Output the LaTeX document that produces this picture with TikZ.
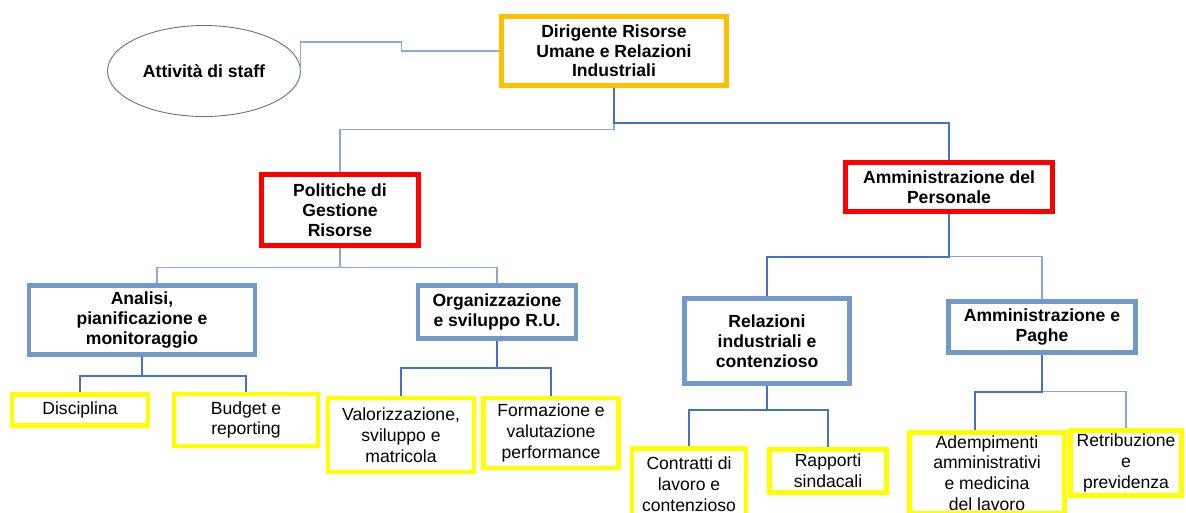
\documentclass[tikz,border=0pt]{standalone}
\usepackage{fontspec}
\setmainfont{Liberation Sans}
\usepackage{tikz}
\usetikzlibrary{shapes.geometric,positioning}
\definecolor{oroDir}{RGB}{255,192,0}
\definecolor{rossoArea}{RGB}{255,0,0}
\definecolor{bluUff}{RGB}{114,152,204}
\definecolor{gialloAtt}{RGB}{255,255,0}
\definecolor{bluLinea}{RGB}{68,114,196}
\definecolor{bluChiaro}{RGB}{140,168,214}
\definecolor{grigioEll}{RGB}{110,110,110}

\begin{document}
\begin{tikzpicture}[x=0.02cm,y=-0.02cm,
  box/.style={draw,line width=2.8pt,fill=white,align=center,inner sep=0pt},
  dirBox/.style={box,draw=oroDir,font=\fontsize{10}{11}\selectfont\bfseries},
  areaBox/.style={box,draw=rossoArea,font=\fontsize{10}{11.5}\selectfont\bfseries},
  uffBox/.style={box,draw=bluUff,font=\fontsize{10}{11.5}\selectfont\bfseries},
  attBox/.style={box,draw=gialloAtt,font=\fontsize{10}{11.8}\selectfont},
  staffEll/.style={ellipse,draw=grigioEll,line width=0.5pt,inner sep=0pt,
                   font=\fontsize{10}{11.5}\selectfont\bfseries},
  lnMain/.style={draw=bluLinea,line width=0.9pt},
  lnLight/.style={draw=bluChiaro,line width=0.6pt}]

  \useasboundingbox (0,0) rectangle (1186,513);

  % Vertice
  \node[dirBox,minimum width=4.5cm,minimum height=1.38cm] (dir) at (614,51)
    {Dirigente Risorse\\Umane e Relazioni\\Industriali};
  \node[staffEll,minimum width=3.86cm,minimum height=1.82cm] (staff) at (204,71)
    {Attività di staff};

  % Aree
  \node[areaBox,minimum width=3.14cm,minimum height=1.42cm] (pol) at (340,210)
    {Politiche di\\Gestione\\Risorse};
  \node[areaBox,minimum width=4.14cm,minimum height=0.98cm] (amm) at (949,187)
    {Amministrazione del\\Personale};

  % Uffici
  \node[uffBox,minimum width=4.52cm,minimum height=1.38cm] (ana) at (142,320)
    {Analisi,\\pianificazione e\\monitoraggio};
  \node[uffBox,minimum width=3.16cm,minimum height=1.06cm] (org) at (497,312)
    {Organizzazione\\e sviluppo R.U.};
  \node[uffBox,minimum width=3.3cm,minimum height=1.7cm] (rel) at (767,341)
    {Relazioni\\industriali e\\contenzioso};
  \node[uffBox,minimum width=3.74cm,minimum height=1.02cm] (pag) at (1042,327)
    {Amministrazione e\\Paghe};

  % Attività
  \node[attBox,minimum width=2.72cm,minimum height=0.62cm] (dis) at (80,410)
    {Disciplina};
  \node[attBox,minimum width=2.88cm,minimum height=1.04cm] (bud) at (246,420)
    {Budget e\\reporting};
  \node[attBox,minimum width=2.92cm,minimum height=1.48cm] (val) at (401,435)
    {Valorizzazione,\\sviluppo e\\matricola};
  \node[attBox,minimum width=2.7cm,minimum height=1.4cm] (for) at (551,433)
    {Formazione e\\valutazione\\performance};
  \node[attBox,minimum width=2.28cm,minimum height=1.42cm] (con) at (689,484)
    {Contratti di\\lavoro e\\contenzioso};
  \node[attBox,minimum width=2.34cm,minimum height=0.86cm] (rap) at (828,471)
    {Rapporti\\sindacali};
  \node[attBox,minimum width=3.1cm,minimum height=1.62cm] (ade) at (987,473)
    {Adempimenti\\amministrativi\\e medicina\\del lavoro};
  \node[attBox,minimum width=2.22cm,minimum height=1.3cm] (ret) at (1126,463)
    {Retribuzione\\e\\previdenza};

  % Collegamenti
  \draw[lnLight] (staff.east) -- ++(0,-29) -- ++(101,0) |- (dir.west);
  \draw[lnLight] (dir.south) -- ++(0,42) -| (pol.north);
  \draw[lnMain] (dir.south) -- ++(0,35) -| (amm.north);

  \draw[lnLight] (pol.south) -- ++(0,20) -| ([xshift=0.3cm]ana.north);
  \draw[lnLight] (pol.south) -- ++(0,20) -| (org.north);
  \draw[lnLight] (amm.south) -- ++(0,43) -| (pag.north);
  \draw[lnMain] (amm.south) -- ++(0,43) -| (rel.north);

  \draw[lnMain] (ana.south) -- ++(0,19) -| (dis.north);
  \draw[lnMain] (ana.south) -- ++(0,19) -| (bud.north);
  \draw[lnMain] (org.south) -- ++(0,27) -| (val.north);
  \draw[lnMain] (org.south) -- ++(0,27) -| (for.north);
  \draw[lnMain] (rel.south) -- ++(0,24) -| (con.north);
  \draw[lnMain] (rel.south) -- ++(0,24) -| (rap.north);
  \draw[lnLight] (pag.south) -- ++(0,37) -| (ret.north);
  \draw[lnMain] (pag.south) -- ++(0,37) -| ([xshift=-0.24cm]ade.north);
\end{tikzpicture}
\end{document}
